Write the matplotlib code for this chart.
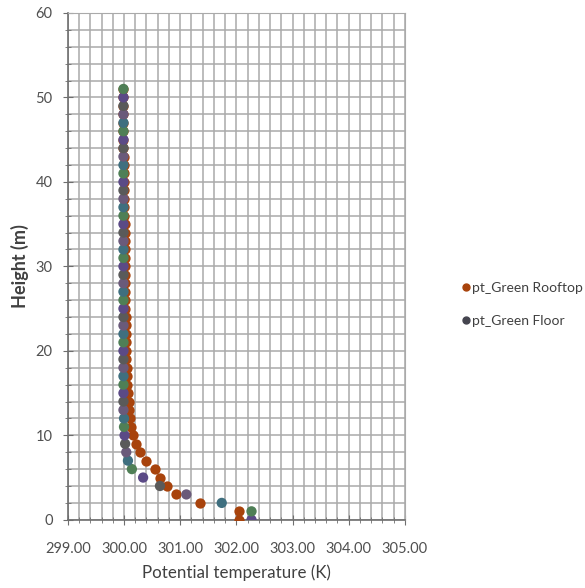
import matplotlib
matplotlib.use("Agg")
import matplotlib.pyplot as plt
from matplotlib.ticker import MultipleLocator, FormatStrFormatter
from matplotlib.lines import Line2D

plt.rcParams['font.family'] = ['Lato', 'DejaVu Sans']

# Heights (m), 1 m steps
heights = [0, 1, 2, 3, 4, 5, 6, 7, 8, 9, 10, 11, 12, 13, 14, 15, 16, 17, 18, 19,
           20, 21, 22, 23, 24, 25, 26, 27, 28, 29, 30, 31, 32, 33, 34, 35, 36, 37, 38, 39,
           40, 41, 42, 43, 44, 45, 46, 47, 48, 49, 50, 51]

# Potential temperature (K)
pt_rooftop = [302.04, 302.04, 301.35, 300.92, 300.76, 300.64, 300.55, 300.39, 300.28, 300.21,
              300.16, 300.13, 300.11, 300.09, 300.08, 300.07, 300.06, 300.05, 300.05, 300.04,
              300.04, 300.03, 300.03, 300.03, 300.03, 300.02, 300.02, 300.02, 300.02, 300.02,
              300.01, 300.01, 300.01, 300.01, 300.01, 300.01, 300.00, 300.00, 300.00, 300.00,
              300.00, 300.00, 300.00, 300.00, 299.99, 299.99, 299.99, 299.99, 299.99, 299.99,
              299.99, 299.99]
pt_floor = [302.27, 302.27, 301.74, 301.11, 300.64, 300.34, 300.14, 300.07, 300.04, 300.02,
            300.01, 300.00, 300.00, 299.99, 299.99, 299.99, 299.99, 299.99, 299.99, 299.99,
            299.99, 299.99, 299.99, 299.99, 299.99, 299.99, 299.99, 299.99, 299.99, 299.99,
            299.99, 299.99, 299.99, 299.99, 299.99, 299.99, 299.99, 299.99, 299.99, 299.99,
            299.99, 299.99, 299.99, 299.99, 299.99, 299.99, 299.99, 299.99, 299.99, 299.99,
            299.99, 299.99]

series_names = ["pt_Green Rooftop", "pt_Green Floor"]
rooftop_color = "#A8430C"
floor_cycle = ["#5B4A86", "#4F7F56", "#3F6F7F", "#6A5A7A", "#5A5A5A"]
floor_colors = [floor_cycle[i % len(floor_cycle)] for i in range(len(heights))]

fig = plt.figure(figsize=(5.85, 5.88), dpi=100)
ax = fig.add_axes([0.116, 0.116, 0.576, 0.862])

grid_color = "#AAAAAA"
ax.scatter(pt_rooftop, heights, s=55, color=rooftop_color, zorder=3, linewidths=0)
ax.scatter(pt_floor, heights, s=55, color=floor_colors, zorder=4, linewidths=0)

ax.set_xlim(299, 305)
ax.set_ylim(0, 60)
ax.xaxis.set_major_locator(MultipleLocator(1))
ax.xaxis.set_minor_locator(MultipleLocator(0.2))
ax.yaxis.set_major_locator(MultipleLocator(10))
ax.yaxis.set_minor_locator(MultipleLocator(2))
ax.xaxis.set_major_formatter(FormatStrFormatter('%.2f'))
ax.grid(True, which='both', color=grid_color, linewidth=1.1, zorder=0)
ax.set_axisbelow(True)

for side in ['top', 'right']:
    ax.spines[side].set_color(grid_color)
for side in ['left', 'bottom']:
    ax.spines[side].set_color("#6E6E6E")
    ax.spines[side].set_linewidth(1.2)

ax.tick_params(which='major', direction='inout', length=7, color="#6E6E6E",
               labelsize=10.5, labelcolor="#505050")
ax.tick_params(axis='x', which='major', pad=12.5)
ax.tick_params(axis='y', which='major', pad=7.5)
ax.tick_params(which='minor', direction='inout', length=4, color="#6E6E6E")
ax.tick_params(top=False, right=False, which='both')

ax.set_xlabel("Potential temperature (K)", fontsize=12.2, color="#404040", labelpad=6)
ax.set_ylabel("Height (m)", fontsize=13, fontweight='bold', color="#404040", labelpad=5)

handles = [Line2D([], [], marker='o', linestyle='', markersize=5, color=rooftop_color),
           Line2D([], [], marker='o', linestyle='', markersize=5, color="#45454F")]
fig.legend(handles, series_names, loc='center left', bbox_to_anchor=(0.767, 0.482),
           frameon=False, fontsize=10, handletextpad=0.05, labelspacing=1.5,
           labelcolor="#404040", handlelength=0.7)

fig.savefig("out.png", dpi=100)
